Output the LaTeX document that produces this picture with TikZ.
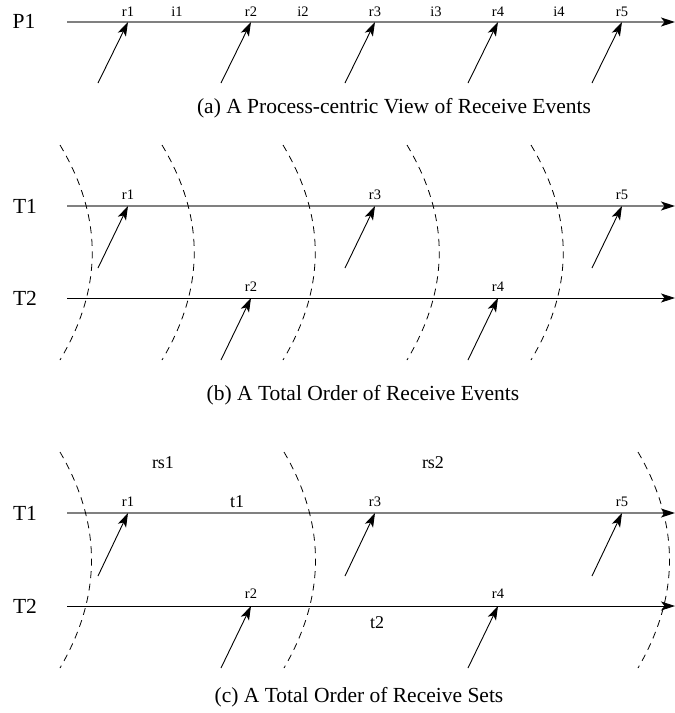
\documentclass[tikz,border=0pt]{standalone}
\usepackage{fontspec}
\setmainfont{Liberation Serif}
\usetikzlibrary{arrows.meta}
\tikzset{
  axisline/.style={line width=#1, -{Stealth[length=14pt,width=9pt,inset=3.5pt,black]}},
  grayaxis/.style={axisline=1.2pt, draw=gray},
  blackaxis/.style={axisline=0.8pt, draw=black},
  msg/.style={line width=0.9pt, -{Stealth[length=14pt,width=9pt,inset=3.5pt]}},
  cut/.style={line width=0.8pt, dash pattern=on 7pt off 5.5pt},
  biglabel/.style={font=\fontsize{21.5}{24}\selectfont, inner sep=0pt},
  evlabel/.style={font=\fontsize{14.5}{17}\selectfont, inner sep=0pt, anchor=base},
  setlabel/.style={font=\fontsize{18}{21}\selectfont, inner sep=0pt},
  captiontext/.style={font=\fontsize{21.5}{25}\selectfont, inner sep=0pt, anchor=base},
}
\begin{document}
\begin{tikzpicture}[x=1pt,y=-1pt]
\useasboundingbox (0,0) rectangle (675,713);
% ---------------- (a)
\node[biglabel] (P1) at (24,21) {P1};
\coordinate (a0) at (67,22);
\coordinate (a1) at (675,22);
\draw[grayaxis] (a0) -- (a1);
\foreach \x [count=\i] in {128,251,375,498,622} {
  \coordinate (ar\i) at (\x,22);
  \coordinate (as\i) at (\x-30,83);
  \draw[msg] (as\i) -- (ar\i);
  \node[evlabel] (arl\i) at (\x,16) {r\i};
}
\foreach \x [count=\i] in {177,303,436,559} {
  \node[evlabel] (ail\i) at (\x,16) {i\i};
}
\node[captiontext] (capa) at (394,113) {(a) A Process-centric View of Receive Events};
% ---------------- (b)
\node[biglabel] (bT1) at (25,206) {T1};
\node[biglabel] (bT2) at (25,298) {T2};
\coordinate (b10) at (67,206);
\coordinate (b11) at (675,206);
\coordinate (b20) at (67,298);
\coordinate (b21) at (675,298);
\draw[grayaxis] (b10) -- (b11);
\draw[blackaxis] (b20) -- (b21);
\foreach \x/\i in {128/1,375/3,622/5} {
  \coordinate (br\i) at (\x,206);
  \coordinate (bs\i) at (\x-30,268);
  \draw[msg] (bs\i) -- (br\i);
  \node[evlabel] (brl\i) at (\x,199) {r\i};
}
\foreach \x/\i in {251/2,498/4} {
  \coordinate (br\i) at (\x,298);
  \coordinate (bs\i) at (\x-30,360);
  \draw[msg] (bs\i) -- (br\i);
  \node[evlabel] (brl\i) at (\x,291) {r\i};
}
\foreach \x [count=\i] in {60,162,283,407,531} {
  \coordinate (bct\i) at (\x,145);
  \coordinate (bcu\i) at (\x+43,217);
  \coordinate (bcv\i) at (\x+43,288);
  \coordinate (bcb\i) at (\x,360);
  \draw[cut] (bct\i) .. controls (bcu\i) and (bcv\i) .. (bcb\i);
}
\node[captiontext] (capb) at (363,400) {(b) A Total Order of Receive Events};
% ---------------- (c)
\node[biglabel] (cT1) at (25,513) {T1};
\node[biglabel] (cT2) at (25,606) {T2};
\coordinate (c10) at (67,513);
\coordinate (c11) at (675,513);
\coordinate (c20) at (67,606);
\coordinate (c21) at (675,606);
\draw[grayaxis] (c10) -- (c11);
\draw[blackaxis] (c20) -- (c21);
\foreach \x/\i in {128/1,375/3,622/5} {
  \coordinate (cr\i) at (\x,513);
  \coordinate (cs\i) at (\x-30,576);
  \draw[msg] (cs\i) -- (cr\i);
  \node[evlabel] (crl\i) at (\x,506) {r\i};
}
\foreach \x/\i in {251/2,498/4} {
  \coordinate (cr\i) at (\x,606);
  \coordinate (cs\i) at (\x-30,668);
  \draw[msg] (cs\i) -- (cr\i);
  \node[evlabel] (crl\i) at (\x,598) {r\i};
}
\foreach \x [count=\i] in {60,284,638} {
  \coordinate (cct\i) at (\x,452);
  \coordinate (ccu\i) at (\x+42,524);
  \coordinate (ccv\i) at (\x+42,596);
  \coordinate (ccb\i) at (\x,668);
  \draw[cut] (cct\i) .. controls (ccu\i) and (ccv\i) .. (ccb\i);
}
\node[setlabel] (rs1) at (163,463) {rs1};
\node[setlabel] (rs2) at (433,463) {rs2};
\node[setlabel] (t1) at (237,502) {t1};
\node[setlabel] (t2) at (377,623) {t2};
\node[captiontext] (capc) at (359,702) {(c) A Total Order of Receive Sets};
\end{tikzpicture}
\end{document}
